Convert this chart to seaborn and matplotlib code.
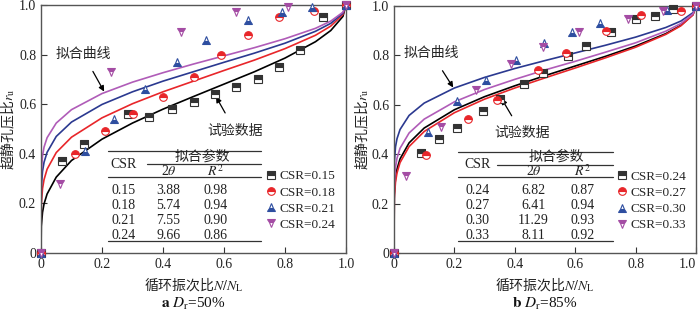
import numpy as np
import pandas as pd
import matplotlib
matplotlib.use("Agg")
import matplotlib.pyplot as plt
from matplotlib.lines import Line2D
import seaborn as sns

# -----------------------------
# data
# -----------------------------

# fitted curves, sampled at these cycle ratios
grid = [0, 0.001, 0.005, 0.01, 0.02, 0.05, 0.1, 0.2, 0.3, 0.4, 0.5,
        0.6, 0.7, 0.8, 0.9, 0.95, 0.99, 1.0]

# panel a, Dr = 50%
a_csr = ["0.15", "0.18", "0.21", "0.24"]
a_theta = ["3.88", "5.74", "7.55", "9.66"]
a_r2 = ["0.98", "0.94", "0.90", "0.86"]
a_fit = [
    [0, 0.108, 0.164, 0.198, 0.238, 0.306, 0.373, 0.459, 0.524, 0.580, 0.631,
     0.681, 0.731, 0.786, 0.852, 0.897, 0.954, 1.0],
    [0, 0.194, 0.260, 0.296, 0.338, 0.405, 0.467, 0.545, 0.602, 0.650, 0.693,
     0.736, 0.778, 0.824, 0.878, 0.915, 0.962, 1.0],
    [0, 0.262, 0.330, 0.366, 0.406, 0.470, 0.528, 0.599, 0.650, 0.693, 0.731,
     0.769, 0.806, 0.846, 0.894, 0.926, 0.967, 1.0],
    [0, 0.325, 0.392, 0.427, 0.465, 0.524, 0.578, 0.643, 0.689, 0.727, 0.762,
     0.795, 0.828, 0.864, 0.906, 0.935, 0.971, 1.0],
]
a_x = [
    [0, 0.07, 0.14, 0.285, 0.355, 0.43, 0.50, 0.57, 0.64, 0.71, 0.78, 0.85, 0.925, 1.0],
    [0, 0.11, 0.21, 0.30, 0.40, 0.50, 0.59, 0.68, 0.78, 0.895, 1.0],
    [0, 0.144, 0.24, 0.34, 0.445, 0.54, 0.68, 0.79, 0.89, 1.0],
    [0, 0.062, 0.23, 0.46, 0.64, 0.81, 1.0],
]
a_y = [
    [0, 0.37, 0.44, 0.56, 0.55, 0.58, 0.61, 0.64, 0.67, 0.70, 0.75, 0.82, 0.95, 1.0],
    [0, 0.40, 0.49, 0.56, 0.63, 0.71, 0.80, 0.88, 0.95, 0.975, 1.0],
    [0, 0.41, 0.54, 0.66, 0.77, 0.86, 0.94, 0.97, 0.99, 1.0],
    [0, 0.28, 0.73, 0.89, 0.97, 0.99, 1.0],
]

# panel b, Dr = 85%
b_csr = ["0.24", "0.27", "0.30", "0.33"]
b_theta = ["6.82", "6.41", "11.29", "8.11"]
b_r2 = ["0.87", "0.94", "0.93", "0.92"]
b_fit = [
    [0, 0.237, 0.304, 0.340, 0.381, 0.446, 0.506, 0.580, 0.633, 0.677, 0.718,
     0.757, 0.796, 0.838, 0.888, 0.922, 0.965, 1.0],
    [0, 0.221, 0.288, 0.324, 0.366, 0.431, 0.492, 0.568, 0.623, 0.668, 0.709,
     0.749, 0.790, 0.833, 0.885, 0.920, 0.964, 1.0],
    [0, 0.365, 0.430, 0.463, 0.500, 0.557, 0.607, 0.668, 0.711, 0.747, 0.779,
     0.810, 0.841, 0.874, 0.913, 0.939, 0.973, 1.0],
    [0, 0.281, 0.348, 0.384, 0.424, 0.486, 0.542, 0.612, 0.662, 0.703, 0.741,
     0.776, 0.813, 0.851, 0.898, 0.929, 0.968, 1.0],
]
b_x = [
    [0, 0.089, 0.149, 0.207, 0.295, 0.351, 0.432, 0.492, 0.577, 0.635, 0.718,
     0.802, 0.863, 0.924, 1.0],
    [0, 0.107, 0.246, 0.34, 0.478, 0.570, 0.702, 0.817, 0.951, 1.0],
    [0, 0.111, 0.207, 0.304, 0.403, 0.497, 0.588, 0.682, 0.904, 1.0],
    [0, 0.039, 0.157, 0.271, 0.387, 0.494, 0.614, 0.774, 0.892, 1.0],
]
b_y = [
    [0, 0.403, 0.46, 0.508, 0.575, 0.623, 0.685, 0.73, 0.796, 0.84, 0.894,
     0.948, 0.959, 0.986, 1.0],
    [0, 0.396, 0.541, 0.618, 0.739, 0.809, 0.898, 0.964, 0.978, 1.0],
    [0, 0.488, 0.614, 0.702, 0.783, 0.85, 0.894, 0.932, 0.985, 1.0],
    [0, 0.311, 0.51, 0.659, 0.766, 0.836, 0.894, 0.948, 0.978, 1.0],
]

# -----------------------------
# styles
# -----------------------------

sns.set_style("ticks")
plt.rcParams['font.family'] = ['Liberation Serif', 'Noto Sans CJK SC']
plt.rcParams['mathtext.fontset'] = 'stix'

line_cols = ["#000000", "#e8262a", "#2b3990", "#b05cb8"]
mk = [
    dict(marker="s", mfc="#333333", mfcalt="white", mec="#333333", fillstyle="top"),
    dict(marker="o", mfc="#e8262a", mfcalt="white", mec="#e8262a", fillstyle="top"),
    dict(marker="^", mfc="#2e4ea0", mfcalt="white", mec="#2e4ea0", fillstyle="bottom"),
    dict(marker="v", mfc="#a44ca4", mfcalt="white", mec="#a44ca4", fillstyle="top"),
]
CJK = ['Noto Sans CJK SC', 'Liberation Serif']

fig = plt.figure(figsize=(7, 3.19), dpi=100)
ax1 = fig.add_axes([41 / 700, 66 / 319, 305 / 700, 248 / 319])
ax2 = fig.add_axes([394 / 700, 66 / 319, 302 / 700, 247 / 319])


def draw_panel(ax, fits, xs, ys, csr, theta, r2, cfg):
    for i in range(4):
        df = pd.DataFrame({"x": grid, "y": fits[i]})
        sns.lineplot(data=df, x="x", y="y", ax=ax, color=line_cols[i], lw=1.2,
                     estimator=None, sort=False, legend=False)
    for i in range(4):
        ax.plot(xs[i], ys[i], ls="none", ms=5.5, mew=0.8, zorder=5,
                clip_on=False, **mk[i])

    ax.set_xlim(0, 1)
    ax.set_ylim(0, 1)
    ticks = [0, 0.2, 0.4, 0.6, 0.8, 1.0]
    labs = ["0", "0.2", "0.4", "0.6", "0.8", "1.0"]
    ax.set_xticks(ticks)
    ax.set_xticklabels(labs)
    ax.set_yticks(ticks)
    ax.set_yticklabels(labs)
    ax.tick_params(direction="in", length=4, labelsize=10, colors="#333333",
                   labelcolor="#222222")
    for s in ax.spines.values():
        s.set_color("#555555")
        s.set_linewidth(1.0)

    ax.set_xlabel("循环振次比$N/N_{\\rm L}$", fontsize=10, family=CJK,
                  color="#222222", va="center")
    ax.xaxis.set_label_coords(0.5, -0.129)
    ax.set_ylabel("超静孔压比$r_{\\rm u}$", fontsize=10, family=CJK,
                  color="#222222", va="center")
    ax.yaxis.set_label_coords(-0.108, 0.5)
    ax.text(0.5, -0.205, cfg["cap"], transform=ax.transAxes, ha="center",
            va="center", fontsize=11, color="#111111")

    # table
    x0, x1 = cfg["tx"]
    kw = dict(color="#333333", lw=0.9, clip_on=False)
    ax.plot([x0, x1], [0.41, 0.41], **kw)
    ax.plot([cfg["ux"], x1], [0.358, 0.358], **kw)
    ax.plot([x0, x1], [0.308, 0.308], **kw)
    ax.plot([x0, x1], [0.05, 0.05], **kw)
    tk = dict(ha="center", va="center", fontsize=10, color="#222222")
    ax.text(cfg["cx"], 0.358, "CSR", **tk)
    ax.text(cfg["px"], 0.39, "拟合参数", family=CJK, **tk)
    ax.text(cfg["thx"], 0.332, "2$\\theta$", **tk)
    ax.text(cfg["rx"], 0.332, "$R^2$", **tk)
    rows = [0.254, 0.193, 0.133, 0.072]
    for j in range(4):
        ax.text(cfg["cx"], rows[j], csr[j], **tk)
        ax.text(cfg["thx"], rows[j], theta[j], **tk)
        ax.text(cfg["rx"], rows[j], r2[j], **tk)

    # legend
    handles = [Line2D([], [], ls="none", ms=5.5, mew=0.8, **mk[i]) for i in range(4)]
    ax.legend(handles, ["CSR=" + c for c in csr], loc="upper left",
              bbox_to_anchor=cfg["lg"], frameon=False, fontsize=9.5,
              handlelength=0.6, handletextpad=0.3, labelspacing=0.3,
              borderaxespad=0)

    # annotations
    ax.annotate("拟合曲线", xy=cfg["fa"][1], xytext=cfg["fa"][0], family=CJK,
                fontsize=10, ha="center", va="center",
                arrowprops=dict(arrowstyle="-|>", color="black", lw=0.9,
                                shrinkA=6, shrinkB=0, mutation_scale=8))
    ax.annotate("试验数据", xy=cfg["da"][1], xytext=cfg["da"][0], family=CJK,
                fontsize=10, ha="center", va="center",
                arrowprops=dict(arrowstyle="-|>", color="black", lw=0.9,
                                shrinkA=6, shrinkB=0, mutation_scale=8))


draw_panel(ax1, a_fit, a_x, a_y, a_csr, a_theta, a_r2, dict(
    cap="$\\mathbf{a}$ $D_{\\rm r}$=50%", tx=(0.22, 0.72), ux=0.348,
    cx=0.27, px=0.528, thx=0.418, rx=0.572, lg=(0.725, 0.355),
    fa=((0.138, 0.803), (0.207, 0.651)), da=((0.636, 0.494), (0.574, 0.63))))
draw_panel(ax2, b_fit, b_x, b_y, b_csr, b_theta, b_r2, dict(
    cap="$\\mathbf{b}$ $D_{\\rm r}$=85%", tx=(0.211, 0.726), ux=0.341,
    cx=0.277, px=0.539, thx=0.462, rx=0.624, lg=(0.725, 0.355),
    fa=((0.124, 0.808), (0.196, 0.67)), da=((0.424, 0.485), (0.356, 0.625))))

# keep the last tick label of panel b inside the canvas
ax2.get_xticklabels()[-1].set_ha("right")

fig.savefig("out.png", dpi=100)
